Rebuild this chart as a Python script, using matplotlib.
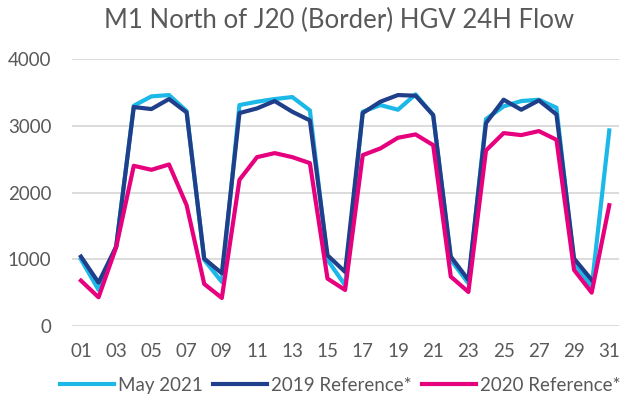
import matplotlib
matplotlib.use("Agg")
import matplotlib.pyplot as plt

plt.rcParams['font.family'] = ['Lato', 'DejaVu Sans']

days = list(range(1, 32))
may_2021 = [1000, 540, 1190, 3300, 3440, 3460, 3220, 990, 660, 3310, 3360, 3400, 3430, 3230,
            990, 610, 3210, 3310, 3240, 3470, 3160, 990, 640, 3100, 3290, 3370, 3390, 3270,
            940, 590, 2930]
ref_2019 = [1040, 650, 1190, 3280, 3250, 3400, 3200, 1010, 790, 3190, 3260, 3370, 3210, 3080,
            1060, 810, 3190, 3360, 3460, 3450, 3160, 1040, 690, 3040, 3390, 3240, 3380, 3170,
            1010, 690]
ref_2020 = [680, 430, 1180, 2400, 2340, 2420, 1810, 630, 420, 2190, 2530, 2590, 2530, 2440,
            710, 540, 2560, 2660, 2820, 2870, 2710, 740, 510, 2630, 2890, 2860, 2920, 2790,
            840, 500, 1810]
series_names = ["May 2021", "2019 Reference*", "2020 Reference*"]
colors = ["#1BB8E8", "#203F8A", "#E6007E"]
xtick_days = list(range(1, 32, 2))
xtick_labels = [f"{d:02d}" for d in xtick_days]
yticks = [0, 1000, 2000, 3000, 4000]

fig = plt.figure(figsize=(6.3, 4.0), dpi=100)
ax = fig.add_axes([0.1145, 0.185, 0.868, 0.6675])

ax.plot(days, may_2021, color=colors[0], lw=3, label=series_names[0])
ax.plot(days[:len(ref_2019)], ref_2019, color=colors[1], lw=3, label=series_names[1])
ax.plot(days, ref_2020, color=colors[2], lw=3, label=series_names[2])

ax.set_xlim(0.5, 31.55)
ax.set_ylim(0, 4000)
ax.set_yticks(yticks)
ax.set_xticks(xtick_days)
ax.set_xticklabels(xtick_labels)
ax.grid(axis='y', color='#D9D9D9', lw=1.3)
ax.set_axisbelow(True)
for s in ax.spines.values():
    s.set_visible(False)
ax.tick_params(axis='both', length=0, colors='#595959', labelsize=13.5)
ax.tick_params(axis='x', pad=12)
ax.tick_params(axis='y', pad=15)

fig.text(0.538, 0.948, "M1 North of J20 (Border) HGV 24H Flow", ha='center', va='center',
         fontsize=18.5, color='#595959')

leg = fig.legend(loc='center', bbox_to_anchor=(0.54, 0.037), ncol=3, frameon=False,
                 fontsize=13.5, handlelength=2.9, handletextpad=0.2, columnspacing=0.55,
                 labelcolor='#595959', borderaxespad=0, borderpad=0)

fig.savefig("out.png", dpi=100)
